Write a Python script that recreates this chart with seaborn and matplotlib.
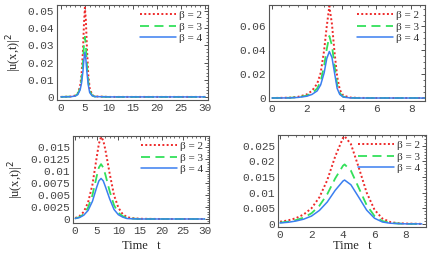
import numpy as np
import pandas as pd
import matplotlib
matplotlib.use('Agg')
import matplotlib.pyplot as plt
import seaborn as sns
from matplotlib.ticker import MultipleLocator, FuncFormatter

sns.set_style('white')
plt.rcParams['font.family'] = ['Liberation Mono', 'DejaVu Sans']

# ---- data ----
betas = ['β = 2', 'β = 3', 'β = 4']

x_a = [0, 2, 3, 3.5, 4, 4.3, 4.6, 4.8, 5.0, 5.2, 5.4, 5.7, 6.0, 6.5, 7, 10, 15, 20, 25, 30]
y_a2 = [0, 0.0002, 0.0008, 0.002, 0.006, 0.013, 0.027, 0.042, 0.052, 0.045, 0.030, 0.013, 0.005, 0.0012, 0.0003, 0, 0, 0, 0, 0]
y_a3 = [0, 0.0002, 0.0007, 0.0017, 0.005, 0.010, 0.020, 0.030, 0.035, 0.030, 0.020, 0.009, 0.0035, 0.0009, 0.0002, 0, 0, 0, 0, 0]
y_a4 = [0, 0.0001, 0.0005, 0.0013, 0.004, 0.008, 0.015, 0.022, 0.026, 0.022, 0.015, 0.007, 0.0025, 0.0007, 0.0002, 0, 0, 0, 0, 0]

x_b = [0, 1, 1.5, 2, 2.3, 2.6, 2.8, 3.0, 3.15, 3.3, 3.45, 3.6, 3.75, 3.9, 4.1, 4.5, 5, 6, 7, 8, 9]
y_b2 = [0, 0.0003, 0.001, 0.003, 0.006, 0.012, 0.021, 0.040, 0.060, 0.077, 0.062, 0.038, 0.018, 0.007, 0.002, 0.0004, 0.0001, 0, 0, 0, 0]
y_b3 = [0, 0.0002, 0.0007, 0.002, 0.004, 0.008, 0.014, 0.027, 0.041, 0.052, 0.044, 0.027, 0.011, 0.004, 0.001, 0.0002, 0, 0, 0, 0, 0]
y_b4 = [0, 0.0001, 0.0005, 0.0015, 0.003, 0.006, 0.011, 0.021, 0.033, 0.039, 0.034, 0.021, 0.008, 0.003, 0.0008, 0.0001, 0, 0, 0, 0, 0]

x_c = [0, 1, 2, 3, 4, 5, 5.5, 6, 6.5, 7, 8, 9, 10, 11, 12, 13, 15, 20, 25, 30]
y_c2 = [0.0002, 0.0006, 0.0015, 0.0035, 0.0072, 0.0130, 0.0158, 0.0172, 0.0165, 0.0145, 0.0095, 0.0050, 0.0024, 0.0010, 0.0004, 0.0002, 0.00005, 0, 0, 0]
y_c3 = [0.0001, 0.0004, 0.0010, 0.0024, 0.0050, 0.0090, 0.0108, 0.0115, 0.0108, 0.0093, 0.0058, 0.0029, 0.0013, 0.0006, 0.0002, 0.0001, 0, 0, 0, 0]
y_c4 = [0.0001, 0.0003, 0.0008, 0.0018, 0.0037, 0.0067, 0.0080, 0.0085, 0.0080, 0.0068, 0.0042, 0.0020, 0.0009, 0.0004, 0.0001, 0.00005, 0, 0, 0, 0]

x_d = [0, 0.5, 1, 1.5, 2, 2.5, 3, 3.5, 4, 4.1, 4.5, 5, 5.5, 6, 6.5, 7, 7.5, 8, 9]
y_d2 = [0.0007, 0.0011, 0.0018, 0.0030, 0.0050, 0.0085, 0.0140, 0.0215, 0.0275, 0.0280, 0.0255, 0.0180, 0.0100, 0.0045, 0.0017, 0.0006, 0.0002, 0.0001, 0]
y_d3 = [0.0004, 0.0007, 0.0012, 0.0020, 0.0034, 0.0058, 0.0095, 0.0145, 0.0186, 0.0190, 0.0170, 0.0115, 0.0060, 0.0025, 0.0009, 0.0003, 0.0001, 0, 0]
y_d4 = [0.0003, 0.0005, 0.0009, 0.0015, 0.0025, 0.0043, 0.0070, 0.0107, 0.0137, 0.0140, 0.0125, 0.0085, 0.0044, 0.0018, 0.0006, 0.0002, 0.0001, 0, 0]

colors = ['#ee2a2a', '#33e05a', '#3a7ff0']
styles = [(0, (1, 1.2)), (0, (5, 3)), '-']
widths = [1.4, 1.3, 1.1]

W, H = 437, 254
fig = plt.figure(figsize=(W / 100, H / 100), dpi=100)


def frac(l, t, r, b):
    return [l / W, (H - b) / H, (r - l) / W, (b - t) / H]


panels = [
    dict(box=frac(57, 5, 208, 100), x=x_a, ys=[y_a2, y_a3, y_a4],
         xlim=(-0.8, 30.6), ylim=(-0.0018, 0.0535), xmaj=5, xmin=1, ymaj=0.01, ymin=0.002,
         ylab=True, xlab=False, pad=3),
    dict(box=frac(269, 5, 425, 101), x=x_b, ys=[y_b2, y_b3, y_b4],
         xlim=(-0.17, 8.8), ylim=(-0.0025, 0.078), xmaj=2, xmin=0.5, ymaj=0.02, ymin=0.005,
         ylab=False, xlab=False, pad=3),
    dict(box=frac(73, 136, 209, 223), x=x_c, ys=[y_c2, y_c3, y_c4],
         xlim=(-0.5, 31), ylim=(-0.00084, 0.0174), xmaj=5, xmin=1, ymaj=0.0025, ymin=0.0005,
         ylab=True, xlab=True, pad=3),
    dict(box=frac(278, 135, 426, 227), x=x_d, ys=[y_d2, y_d3, y_d4],
         xlim=(-0.13, 9.27), ylim=(-0.001, 0.0284), xmaj=2, xmin=0.5, ymaj=0.005, ymin=0.001,
         ylab=False, xlab=True, pad=0),
]

fmt = FuncFormatter(lambda v, p: f'{v:g}' if abs(v) > 1e-12 else '0')

for p in panels:
    ax = fig.add_axes(p['box'])
    for ys, lab, c, ls, lw in zip(p['ys'], betas, colors, styles, widths):
        df = pd.DataFrame({'x': p['x'], 'y': ys})
        sns.lineplot(data=df, x='x', y='y', ax=ax, color=c, linestyle=ls,
                     linewidth=lw, label=lab)
    ax.set_xlim(*p['xlim'])
    ax.set_ylim(*p['ylim'])
    ax.xaxis.set_major_locator(MultipleLocator(p['xmaj']))
    ax.xaxis.set_minor_locator(MultipleLocator(p['xmin']))
    ax.yaxis.set_major_locator(MultipleLocator(p['ymaj']))
    ax.yaxis.set_minor_locator(MultipleLocator(p['ymin']))
    ax.xaxis.set_major_formatter(fmt)
    ax.yaxis.set_major_formatter(fmt)
    ax.tick_params(which='both', direction='in', top=True, right=True,
                   colors='#333333', labelcolor='#444444', labelsize=8, pad=2)
    ax.tick_params(which='major', length=3, width=0.6)
    ax.tick_params(which='minor', length=1.5, width=0.5)
    for s in ax.spines.values():
        s.set_color('#555555')
        s.set_linewidth(0.8)
    ax.set_xlabel('Time   t' if p['xlab'] else '', family='Liberation Serif',
                  fontsize=9, labelpad=p['pad'])
    ax.set_ylabel('|u(x,t)|$^2$' if p['ylab'] else '', family='Liberation Serif',
                  fontsize=9, labelpad=3)
    leg = ax.legend(loc='upper right', frameon=False, handlelength=3.2,
                    handletextpad=0.3, borderaxespad=0.1, labelspacing=0.15,
                    prop={'family': 'Liberation Serif', 'size': 8})
    for t in leg.get_texts():
        t.set_color('#333333')

fig.savefig('out.png', dpi=100)
